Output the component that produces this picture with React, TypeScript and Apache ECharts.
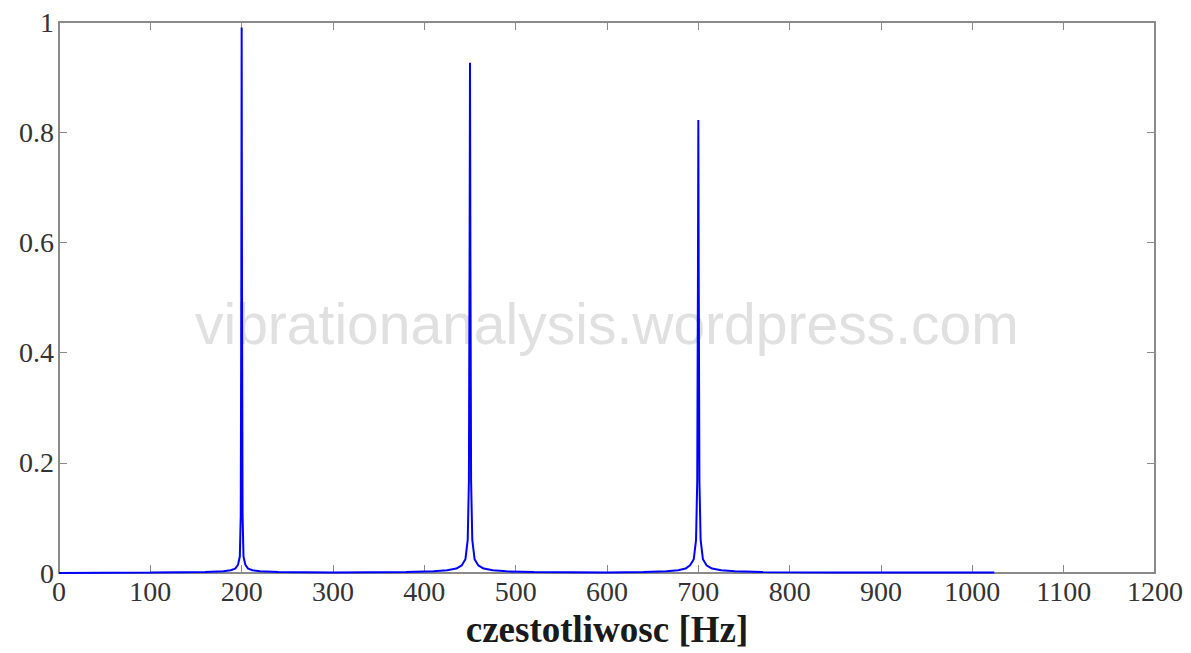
import React, { useEffect, useRef } from "react";
import * as echarts from "echarts";

const freqHz = [
  0, 100, 160, 180, 188, 193, 196, 198, 199, 199.6, 200, 200.4, 201, 202, 204, 207, 212, 220, 240, 300,
  380, 410, 425, 435, 441, 445, 447.5, 448.8, 449.6, 450, 450.4, 451.2, 452.5, 455, 459, 465, 475, 490, 520, 600,
  640, 665, 678, 686, 691, 695, 697.5, 698.8, 699.6, 700, 700.4, 701.2, 702.5, 705, 709, 715, 725, 740, 770, 850,
  950, 1024,
];
const amplitude = [
  0, 0.001, 0.002, 0.003, 0.005, 0.008, 0.015, 0.03, 0.105, 0.5, 0.99, 0.5, 0.105, 0.03, 0.015, 0.008, 0.005, 0.003, 0.002, 0.001,
  0.002, 0.003, 0.005, 0.008, 0.014, 0.025, 0.06, 0.167, 0.6, 0.926, 0.6, 0.167, 0.06, 0.025, 0.014, 0.008, 0.005, 0.003, 0.002, 0.001,
  0.002, 0.003, 0.005, 0.008, 0.014, 0.025, 0.06, 0.167, 0.55, 0.822, 0.55, 0.167, 0.06, 0.025, 0.014, 0.008, 0.005, 0.003, 0.002, 0.001,
  0.001, 0.001,
];

const xTicks = [0, 100, 200, 300, 400, 500, 600, 700, 800, 900, 1000, 1100, 1200];
const yTicks = [0, 0.2, 0.4, 0.6, 0.8, 1];
const xLabel = "czestotliwosc [Hz]";
const watermark = "vibrationanalysis.wordpress.com";

export default function App() {
  const ref = useRef<HTMLDivElement>(null);
  useEffect(() => {
    if (!ref.current) return;
    const chart = echarts.init(ref.current, undefined, { renderer: "svg" });
    const axisColor = "#8a8a8a";
    const labelFont = "Liberation Serif";
    const seriesData = freqHz.map((f, i) => [f, amplitude[i]]);
    const fmtX = (v: number) => {
      const t = xTicks.find((x) => Math.abs(x - v) < 1e-9);
      return t === undefined ? "" : String(t);
    };
    const fmtY = (v: number) => {
      const t = yTicks.find((y) => Math.abs(y - v) < 1e-9);
      return t === undefined ? "" : String(t);
    };
    const tick = { show: true, inside: true, length: 8, lineStyle: { color: axisColor, width: 1 } };
    chart.setOption({
      animation: false,
      backgroundColor: "#ffffff",
      grid: { left: 59, right: 36, top: 22, bottom: 79, show: false },
      xAxis: [
        {
          type: "value",
          min: xTicks[0],
          max: xTicks[xTicks.length - 1],
          interval: 100,
          position: "bottom",
          axisLine: { show: true, onZero: false, lineStyle: { color: axisColor, width: 2 } },
          axisTick: tick,
          axisLabel: { color: "#333", fontFamily: labelFont, fontSize: 28, margin: 4, formatter: fmtX },
          splitLine: { show: false },
          name: xLabel,
          nameLocation: "middle",
          nameGap: 38,
          nameTextStyle: { color: "#1a1a1a", fontFamily: labelFont, fontSize: 37, fontWeight: "bold" },
        },
        {
          type: "value",
          min: xTicks[0],
          max: xTicks[xTicks.length - 1],
          interval: 100,
          position: "top",
          axisLine: { show: true, onZero: false, lineStyle: { color: axisColor, width: 2 } },
          axisTick: tick,
          axisLabel: { show: false },
          splitLine: { show: false },
        },
      ],
      yAxis: [
        {
          type: "value",
          min: 0,
          max: 1,
          interval: 0.2,
          position: "left",
          axisLine: { show: true, onZero: false, lineStyle: { color: axisColor, width: 2 } },
          axisTick: tick,
          axisLabel: { color: "#333", fontFamily: labelFont, fontSize: 28, margin: 5, formatter: fmtY },
          splitLine: { show: false },
        },
        {
          type: "value",
          min: 0,
          max: 1,
          interval: 0.2,
          position: "right",
          axisLine: { show: true, onZero: false, lineStyle: { color: axisColor, width: 2 } },
          axisTick: tick,
          axisLabel: { show: false },
          splitLine: { show: false },
        },
      ],
      graphic: [
        {
          type: "text",
          left: 195,
          top: 295,
          silent: true,
          z: 0,
          style: {
            text: watermark,
            fill: "#e0e0e0",
            font: "57px 'Liberation Sans', Arial, sans-serif",
          },
        },
      ],
      series: [
        {
          type: "line",
          xAxisIndex: 0,
          yAxisIndex: 0,
          data: seriesData,
          showSymbol: false,
          symbol: "none",
          lineStyle: { color: "#0000ff", width: 2 },
          z: 5,
        },
      ],
    });
    return () => chart.dispose();
  }, []);
  return (
    <div
      ref={ref}
      style={{ position: "fixed", left: 0, top: 0, width: 1191, height: 653, background: "#fff" }}
    />
  );
}
